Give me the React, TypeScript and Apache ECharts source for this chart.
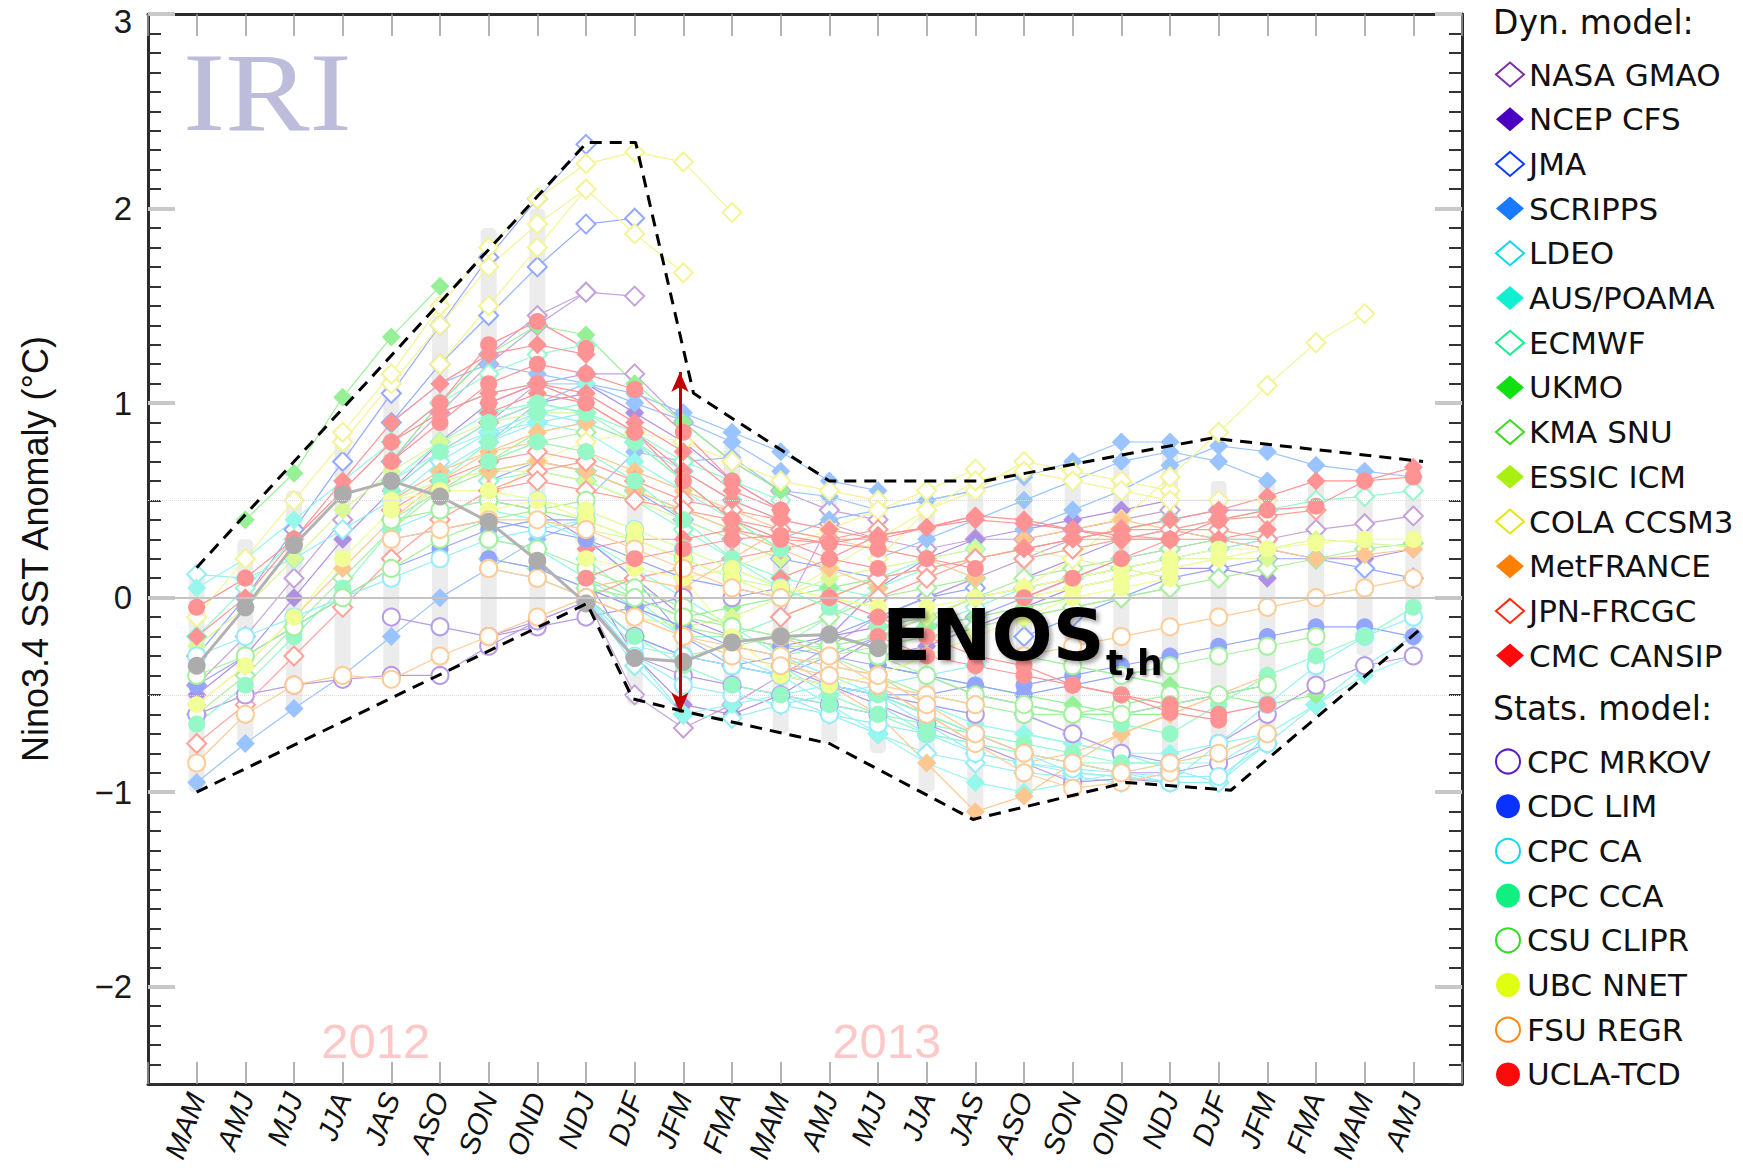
import React, { useEffect, useRef } from 'react';
import * as echarts from 'echarts';

// ---------- data ----------
const SEASONS = ['MAM', 'AMJ', 'MJJ', 'JJA', 'JAS', 'ASO', 'SON', 'OND', 'NDJ', 'DJF', 'JFM', 'FMA', 'MAM', 'AMJ', 'MJJ', 'JJA', 'JAS', 'ASO', 'SON', 'OND', 'NDJ', 'DJF', 'JFM', 'FMA', 'MAM', 'AMJ'];
const Y_TICK_LABELS = [-2, -1, 0, 1, 2, 3];

const OBSERVED = [-0.35, -0.05, 0.27, 0.53, 0.6, 0.52, 0.39, 0.19, -0.03, -0.31, -0.33, -0.23, -0.2, -0.19, -0.26];

const SPREAD_LOW = [-1.0, -0.75, -0.6, -0.45, -0.4, -0.35, -0.3, -0.2, -0.05, -0.55, -0.6, -0.65, -0.7, -0.75, -0.8, -1.0, -1.1, -1.05, -1.0, -0.95, -0.95, -0.95, -0.7, -0.5, -0.3, -0.2];
const SPREAD_HIGH = [0.12, 0.3, 0.55, 0.85, 1.15, 1.45, 1.9, 2.0, 1.1, 1.1, 0.95, 0.8, 0.65, 0.55, 0.5, 0.5, 0.55, 0.6, 0.65, 0.7, 0.75, 0.6, 0.6, 0.6, 0.65, 0.7];

const UPPER_ENVELOPE = [[0, 0.154], [8.02, 2.34], [9.02, 2.34], [10.21, 1.05], [13.0, 0.6], [16.2, 0.6], [20.85, 0.82], [25.2, 0.7]];
const LOWER_ENVELOPE = [[0, -1.0], [8.02, -0.03], [8.96, -0.52], [9.93, -0.58], [13.0, -0.75], [15.95, -1.14], [19.1, -0.95], [21.25, -0.99], [25.2, -0.15]];
const ARROW = [[9.93, 1.16], [9.93, -0.59]];
const YEAR_LABELS = [[3.68, -2.28, '2012'], [14.18, -2.28, '2013']];

type Run = [number, number[]];

const NASA_GMAO: Run[] = [
  [0, [-0.45, -0.2, 0.1, 0.4, 0.7, 0.95, 1.2, 1.4, 1.57]],
  [4, [0.7, 1.0, 1.25, 1.45, 1.57, 1.55]],
  [6, [0.9, 1.1, 1.15, 1.15, 0.9, 0.7, 0.55, 0.45, 0.4]],
  [8, [0.0, -0.5, -0.67, -0.55, -0.4, -0.25, -0.1, 0.0, 0.1]],
  [12, [-0.1, 0.38, 0.3, 0.25, 0.3, 0.3, 0.35, 0.4, 0.45]],
  [14, [-0.1, 0.0, 0.1, 0.2, 0.3, 0.35, 0.4, 0.45, 0.45]],
  [17, [0.05, 0.1, 0.15, 0.2, 0.25, 0.3, 0.35, 0.38, 0.42]],
];
const NCEP_CFS: Run[] = [
  [0, [-0.5, -0.3, 0.0, 0.3, 0.55, 0.75, 0.9, 1.0, 1.05]],
  [4, [0.55, 0.8, 1.0, 1.1, 1.1, 0.95, 0.8, 0.6, 0.45]],
  [6, [0.5, 0.45, 0.3, 0.1, -0.1, -0.2, -0.25, -0.2, -0.15]],
  [8, [0.1, -0.3, -0.55, -0.6, -0.5, -0.35, -0.2, -0.1, 0.0]],
  [12, [-0.3, -0.2, 0.05, 0.2, 0.3, 0.35, 0.4, 0.45, 0.5]],
  [14, [-0.3, -0.25, -0.15, -0.05, 0.05, 0.1, 0.15, 0.15, 0.1]],
  [17, [0.1, 0.2, 0.3, 0.35, 0.3, 0.25, 0.2, 0.2, 0.25]],
];
const JMA: Run[] = [
  [0, [-0.3, 0.0, 0.35, 0.7, 1.05, 1.4, 1.75, 2.05, 2.33]],
  [4, [0.9, 1.2, 1.45, 1.7, 1.92, 1.95]],
  [6, [0.6, 0.7, 0.65, 0.55, 0.4, 0.3, 0.2, 0.15, 0.1]],
  [8, [0.3, 0.1, -0.2, -0.35, -0.3, -0.2, -0.1, 0.0, 0.05]],
  [12, [-0.4, -0.3, -0.2, -0.1, 0.0, 0.05, 0.1, 0.15, 0.2]],
  [14, [-0.2, -0.15, -0.1, 0.0, 0.1, 0.2, 0.25, 0.3, 0.3]],
  [17, [-0.2, -0.1, 0.0, 0.1, 0.15, 0.2, 0.2, 0.15, 0.1]],
];
const SCRIPPS: Run[] = [
  [0, [-0.95, -0.75, -0.57, -0.4, -0.2, 0.0, 0.15, 0.3, 0.4]],
  [4, [0.9, 1.1, 1.2, 1.15, 1.1, 1.0, 0.91, 0.8, 0.65]],
  [6, [0.8, 1.0, 1.1, 1.05, 0.95, 0.85, 0.75, 0.6, 0.55]],
  [8, [0.5, 0.75, 0.7, 0.72, 0.55, 0.52, 0.45, 0.5, 0.55]],
  [12, [0.3, 0.4, 0.45, 0.5, 0.55, 0.62, 0.7, 0.8, 0.8]],
  [14, [0.2, 0.3, 0.4, 0.5, 0.6, 0.7, 0.75, 0.7, 0.6]],
  [17, [0.35, 0.45, 0.55, 0.68, 0.78, 0.75, 0.68, 0.65, 0.62]],
];
const LDEO: Run[] = [
  [0, [0.12, 0.1, 0.2, 0.35, 0.5, 0.65, 0.8, 0.9, 0.95]],
  [4, [0.5, 0.7, 0.85, 0.95, 0.9, 0.8, 0.65, 0.5, 0.4]],
  [6, [0.3, 0.25, 0.1, -0.05, -0.2, -0.3, -0.4, -0.45, -0.5]],
  [8, [0.0, -0.35, -0.6, -0.62, -0.55, -0.5, -0.45, -0.4, -0.35]],
  [12, [-0.5, -0.6, -0.7, -0.8, -0.85, -0.9, -0.92, -0.95, -0.9]],
  [14, [-0.5, -0.65, -0.8, -0.85, -0.9, -0.92, -0.95, -0.95, -0.7]],
  [17, [-0.6, -0.7, -0.8, -0.88, -0.95, -0.75, -0.55, -0.35, -0.2]],
];
const AUS_POAMA: Run[] = [
  [0, [0.05, 0.2, 0.4, 0.6, 0.8, 0.95, 1.05, 1.1, 1.1]],
  [4, [0.6, 0.75, 0.85, 0.9, 0.85, 0.7, 0.55, 0.4, 0.3]],
  [6, [0.45, 0.4, 0.3, 0.15, 0.0, -0.15, -0.3, -0.4, -0.45]],
  [8, [0.0, -0.3, -0.6, -0.55, -0.5, -0.45, -0.5, -0.55, -0.6]],
  [12, [-0.4, -0.55, -0.7, -0.85, -0.95, -1.0, -0.95, -0.9, -0.85]],
  [14, [-0.4, -0.55, -0.65, -0.7, -0.75, -0.8, -0.85, -0.85, -0.7]],
  [17, [-0.7, -0.75, -0.8, -0.8, -0.75, -0.7, -0.55, -0.4, -0.3]],
];
const ECMWF: Run[] = [
  [0, [-0.2, 0.05, 0.3, 0.55, 0.8, 1.0, 1.15, 1.25, 1.3]],
  [4, [0.6, 0.8, 0.95, 1.0, 0.95, 0.85, 0.7, 0.6, 0.5]],
  [6, [0.6, 0.65, 0.6, 0.5, 0.35, 0.2, 0.1, 0.05, 0.0]],
  [8, [0.2, 0.0, -0.2, -0.2, -0.1, 0.0, 0.1, 0.2, 0.25]],
  [12, [-0.25, -0.1, 0.05, 0.15, 0.2, 0.25, 0.3, 0.35, 0.4]],
  [14, [-0.2, -0.15, -0.05, 0.05, 0.1, 0.15, 0.2, 0.25, 0.3]],
  [17, [0.2, 0.25, 0.3, 0.35, 0.4, 0.45, 0.5, 0.52, 0.55]],
];
const UKMO: Run[] = [
  [1, [0.4, 0.64, 1.03, 1.34, 1.6]],
  [4, [0.7, 1.0, 1.25, 1.4, 1.35, 1.1, 0.9, 0.7, 0.55]],
  [6, [0.7, 0.85, 0.9, 0.8, 0.6, 0.4, 0.25]],
  [8, [0.1, 0.0, -0.1, -0.05, 0.0, 0.05, 0.1]],
  [12, [-0.3, -0.25, -0.2, -0.15, -0.1, -0.05, 0.0]],
  [14, [-0.35, -0.4, -0.45, -0.5, -0.55, -0.6, -0.6]],
  [17, [-0.3, -0.35, -0.4, -0.45, -0.5, -0.55, -0.5]],
];
const KMA_SNU: Run[] = [
  [0, [-0.6, -0.4, -0.15, 0.1, 0.35, 0.55, 0.7, 0.8, 0.85]],
  [4, [0.4, 0.55, 0.65, 0.7, 0.65, 0.55, 0.45, 0.35, 0.25]],
  [6, [0.2, 0.15, 0.05, -0.05, -0.15, -0.2, -0.25, -0.25, -0.2]],
  [8, [0.0, -0.2, -0.3, -0.25, -0.2, -0.1, 0.0, 0.05, 0.1]],
  [12, [-0.35, -0.3, -0.25, -0.2, -0.15, -0.1, -0.05, 0.0, 0.05]],
  [14, [-0.15, -0.1, 0.0, 0.1, 0.15, 0.2, 0.25, 0.3, 0.3]],
  [17, [-0.1, -0.05, 0.0, 0.05, 0.1, 0.15, 0.2, 0.25, 0.28]],
];
const ESSIC_ICM: Run[] = [
  [0, [-0.25, -0.05, 0.2, 0.45, 0.65, 0.8, 0.9, 0.95, 0.95]],
  [4, [0.5, 0.6, 0.65, 0.65, 0.6, 0.5, 0.4, 0.3, 0.2]],
  [6, [0.35, 0.4, 0.35, 0.3, 0.2, 0.1, 0.05, 0.0, -0.05]],
  [8, [0.0, -0.1, -0.15, -0.1, 0.0, 0.1, 0.15, 0.2, 0.25]],
  [12, [-0.1, 0.0, 0.1, 0.15, 0.2, 0.25, 0.2, 0.15, 0.1]],
  [14, [-0.2, -0.1, 0.0, 0.05, 0.1, 0.15, 0.2, 0.2, 0.2]],
  [17, [0.0, 0.05, 0.1, 0.15, 0.2, 0.25, 0.3, 0.28, 0.26]],
];
const COLA_CCSM3: Run[] = [
  [0, [-0.1, 0.2, 0.5, 0.8, 1.1, 1.4, 1.7, 1.92, 2.1]],
  [3, [0.85, 1.15, 1.5, 1.8, 2.05, 2.23, 2.29, 2.24, 1.98]],
  [5, [1.2, 1.5, 1.8, 2.1, 1.87, 1.67]],
  [6, [0.5, 0.7, 0.8, 0.85, 0.8, 0.7, 0.6, 0.55, 0.5]],
  [8, [0.3, 0.2, 0.1, 0.15, 0.25, 0.35, 0.45, 0.55, 0.66]],
  [12, [0.0, 0.15, 0.3, 0.45, 0.55, 0.7, 0.65, 0.6, 0.55]],
  [14, [0.2, 0.45, 0.6, 0.65, 0.6, 0.55, 0.5, 0.5, 0.5]],
  [17, [0.05, 0.2, 0.4, 0.62, 0.85, 1.09, 1.31, 1.46]],
];
const MET_FRANCE: Run[] = [
  [0, [-0.55, -0.35, -0.1, 0.15, 0.4, 0.6, 0.75, 0.85, 0.9]],
  [4, [0.5, 0.65, 0.75, 0.8, 0.75, 0.65, 0.55, 0.45, 0.35]],
  [6, [0.65, 0.7, 0.65, 0.55, 0.45, 0.35, 0.25, 0.15, 0.05]],
  [8, [0.05, 0.1, 0.05, 0.2, 0.35, 0.3, 0.25, 0.2, 0.1]],
  [12, [-0.3, -0.45, -0.6, -0.85, -1.1, -1.02, -0.85, -0.7, -0.6]],
  [14, [-0.45, -0.6, -0.75, -0.85, -0.8, -0.7, -0.6, -0.5, -0.4]],
  [17, [0.3, 0.35, 0.4, 0.35, 0.3, 0.25, 0.2, 0.22, 0.25]],
];
const JPN_FRCGC: Run[] = [
  [0, [-0.75, -0.55, -0.3, -0.05, 0.2, 0.4, 0.55, 0.65, 0.7]],
  [4, [0.45, 0.6, 0.7, 0.75, 0.7, 0.6, 0.5, 0.45, 0.4]],
  [6, [0.55, 0.6, 0.55, 0.5, 0.45, 0.4, 0.35, 0.3, 0.3]],
  [8, [0.0, 0.1, 0.15, 0.2, 0.25, 0.3, 0.35]],
  [12, [-0.1, 0.0, 0.1, 0.15, 0.2, 0.25, 0.3, 0.3, 0.3]],
  [14, [0.0, 0.1, 0.2, 0.25, 0.3, 0.35, 0.35, 0.35, 0.3]],
  [17, [0.2, 0.25, 0.3, 0.35, 0.4, 0.42, 0.45]],
];
const CMC_CANSIP: Run[] = [
  [0, [-0.2, 0.0, 0.3, 0.6, 0.9, 1.1, 1.25, 1.3, 1.25]],
  [4, [0.8, 0.95, 1.05, 1.1, 1.05, 0.9, 0.75, 0.55, 0.45]],
  [6, [0.95, 1.05, 1.0, 0.85, 0.65, 0.5, 0.4, 0.35, 0.3]],
  [8, [0.25, 0.3, 0.3, 0.35, 0.3, 0.28, 0.32, 0.36, 0.42]],
  [12, [0.1, 0.2, 0.32, 0.36, 0.42, 0.4, 0.35, 0.3, 0.3]],
  [14, [0.3, 0.36, 0.4, 0.38, 0.35, 0.32, 0.3, 0.3, 0.35]],
  [17, [0.25, 0.3, 0.35, 0.4, 0.45, 0.52, 0.6, 0.6, 0.67]],
];
const CPC_MRKOV: Run[] = [
  [0, [-0.6, -0.5, -0.45, -0.42, -0.4, -0.4, -0.25, -0.12, -0.02]],
  [4, [-0.1, -0.15, -0.2, -0.15, -0.1, -0.05, 0.0, 0.0, 0.05]],
  [6, [-0.2, -0.12, -0.02, -0.3, -0.4, -0.45, -0.5, -0.55, -0.6]],
  [8, [0.0, -0.2, -0.3, -0.35, -0.4, -0.45, -0.5, -0.55, -0.6]],
  [12, [-0.35, -0.45, -0.55, -0.65, -0.75, -0.85, -0.95, -0.93, -0.95]],
  [14, [-0.5, -0.6, -0.7, -0.8, -0.85, -0.9, -0.9, -0.85, -0.75]],
  [17, [-0.6, -0.7, -0.8, -0.85, -0.75, -0.6, -0.45, -0.35, -0.3]],
];
const CDC_LIM: Run[] = [
  [0, [-0.45, -0.3, -0.15, 0.0, 0.15, 0.25, 0.35, 0.4, 0.4]],
  [4, [0.3, 0.35, 0.4, 0.35, 0.3, 0.2, 0.1, 0.05, 0.0]],
  [6, [0.2, 0.15, 0.05, -0.05, -0.15, -0.25, -0.3, -0.35, -0.4]],
  [8, [0.0, -0.2, -0.3, -0.35, -0.4, -0.45, -0.5, -0.5, -0.45]],
  [12, [-0.25, -0.3, -0.35, -0.4, -0.45, -0.5, -0.45, -0.4, -0.35]],
  [14, [-0.35, -0.4, -0.5, -0.55, -0.6, -0.6, -0.55, -0.5, -0.45]],
  [17, [-0.45, -0.4, -0.35, -0.3, -0.25, -0.2, -0.15, -0.15, -0.2]],
];
const CPC_CA: Run[] = [
  [0, [-0.3, -0.2, -0.1, 0.0, 0.1, 0.2, 0.3, 0.35, 0.4]],
  [4, [0.35, 0.45, 0.5, 0.5, 0.45, 0.35, 0.25, 0.15, 0.05]],
  [6, [0.15, 0.1, 0.0, -0.25, -0.3, -0.35, -0.4, -0.45, -0.5]],
  [8, [0.0, -0.3, -0.45, -0.5, -0.55, -0.6, -0.65, -0.7, -0.75]],
  [12, [-0.3, -0.4, -0.5, -0.6, -0.7, -0.8, -0.9, -0.92, -0.95]],
  [14, [-0.55, -0.7, -0.8, -0.85, -0.88, -0.9, -0.92, -0.92, -0.75]],
  [17, [-0.8, -0.85, -0.9, -0.95, -0.75, -0.55, -0.35, -0.2, -0.1]],
];
const CPC_CCA: Run[] = [
  [0, [-0.65, -0.45, -0.2, 0.05, 0.35, 0.6, 0.8, 0.95, 1.0]],
  [4, [0.55, 0.75, 0.9, 1.0, 0.95, 0.8, 0.6, 0.4, 0.25]],
  [6, [0.7, 0.8, 0.75, 0.6, 0.4, 0.2, 0.05, -0.05, -0.15]],
  [8, [0.0, -0.2, -0.35, -0.45, -0.5, -0.55, -0.6, -0.65, -0.7]],
  [12, [-0.35, -0.5, -0.6, -0.7, -0.75, -0.8, -0.85, -0.85, -0.85]],
  [14, [-0.5, -0.6, -0.7, -0.75, -0.8, -0.85, -0.85, -0.8, -0.7]],
  [17, [-0.55, -0.6, -0.65, -0.7, -0.55, -0.4, -0.3, -0.2, -0.05]],
];
const CSU_CLIPR: Run[] = [
  [0, [-0.4, -0.3, -0.15, 0.0, 0.15, 0.3, 0.4, 0.45, 0.5]],
  [4, [0.4, 0.45, 0.5, 0.45, 0.4, 0.3, 0.2, 0.1, 0.0]],
  [6, [0.3, 0.25, 0.15, 0.05, -0.05, -0.15, -0.2, -0.25, -0.3]],
  [8, [0.05, 0.0, -0.1, -0.15, -0.2, -0.25, -0.3]],
  [12, [-0.2, -0.3, -0.4, -0.5, -0.55, -0.6, -0.6, -0.55, -0.5]],
  [14, [-0.3, -0.4, -0.5, -0.55, -0.6, -0.6, -0.55, -0.5, -0.45]],
  [17, [-0.3, -0.35, -0.4, -0.35, -0.3, -0.25, -0.2]],
];
const UBC_NNET: Run[] = [
  [0, [-0.55, -0.35, -0.1, 0.2, 0.45, 0.55, 0.55, 0.5, 0.45]],
  [4, [0.5, 0.55, 0.55, 0.5, 0.4, 0.3, 0.2, 0.1, 0.0]],
  [6, [0.45, 0.5, 0.45, 0.35, 0.25, 0.15, 0.05, 0.0, -0.05]],
  [8, [0.2, 0.15, 0.1, -0.2, -0.4, -0.45, -0.4, -0.3, -0.2]],
  [12, [-0.3, -0.35, -0.4, -0.3, -0.2, -0.1, 0.0, 0.05, 0.1]],
  [14, [-0.1, -0.05, 0.0, 0.05, 0.1, 0.15, 0.2, 0.25, 0.25]],
  [17, [0.0, 0.05, 0.1, 0.15, 0.2, 0.25, 0.28, 0.3, 0.3]],
];
const FSU_REGR: Run[] = [
  [0, [-0.85, -0.6, -0.45, -0.4, -0.42, -0.3, -0.2, -0.1, 0.0]],
  [4, [0.3, 0.35, 0.4, 0.4, 0.35, 0.25, 0.15, 0.05, 0.0]],
  [6, [0.15, 0.1, 0.0, -0.1, -0.2, -0.25, -0.3, -0.35, -0.4]],
  [8, [0.0, -0.1, -0.2, -0.3, -0.35, -0.4, -0.45, -0.5, -0.55]],
  [12, [-0.2, -0.3, -0.45, -0.6, -0.75, -0.9, -0.98, -0.95, -0.9]],
  [14, [-0.4, -0.55, -0.7, -0.8, -0.85, -0.9, -0.85, -0.8, -0.7]],
  [17, [-0.3, -0.25, -0.2, -0.15, -0.1, -0.05, 0.0, 0.05, 0.1]],
];
const UCLA_TCD: Run[] = [
  [0, [-0.05, 0.1, 0.3, 0.55, 0.8, 1.0, 1.3, 1.42, 1.28]],
  [4, [0.7, 0.9, 1.1, 1.2, 1.15, 1.07, 0.85, 0.6, 0.45]],
  [6, [1.0, 1.1, 1.0, 0.85, 0.6, 0.4, 0.3, 0.2, 0.15]],
  [8, [0.1, 0.2, 0.25, 0.3, 0.32, 0.28, 0.25, 0.2, 0.15]],
  [13, [0.0, -0.1, -0.2, -0.3, -0.35, -0.45, -0.5, -0.59, -0.63]],
  [14, [-0.2, -0.3, -0.35, -0.4, -0.45, -0.5, -0.55, -0.6, -0.55]],
  [17, [0.0, 0.1, 0.2, 0.3, 0.4, 0.45, 0.47, 0.6, 0.62]],
];

const DYN_MODELS = [
  { name: 'NASA GMAO', color: '#7b2fa8', symbol: 'emptyDiamond', runs: NASA_GMAO },
  { name: 'NCEP CFS', color: '#4a00c0', symbol: 'diamond', runs: NCEP_CFS },
  { name: 'JMA', color: '#0a3cff', symbol: 'emptyDiamond', runs: JMA },
  { name: 'SCRIPPS', color: '#1a7aff', symbol: 'diamond', runs: SCRIPPS },
  { name: 'LDEO', color: '#10d8e8', symbol: 'emptyDiamond', runs: LDEO },
  { name: 'AUS/POAMA', color: '#10f0d0', symbol: 'diamond', runs: AUS_POAMA },
  { name: 'ECMWF', color: '#10f090', symbol: 'emptyDiamond', runs: ECMWF },
  { name: 'UKMO', color: '#10e010', symbol: 'diamond', runs: UKMO },
  { name: 'KMA SNU', color: '#40d820', symbol: 'emptyDiamond', runs: KMA_SNU },
  { name: 'ESSIC ICM', color: '#a8f010', symbol: 'diamond', runs: ESSIC_ICM },
  { name: 'COLA CCSM3', color: '#e6e610', symbol: 'emptyDiamond', runs: COLA_CCSM3 },
  { name: 'MetFRANCE', color: '#ff8000', symbol: 'diamond', runs: MET_FRANCE },
  { name: 'JPN-FRCGC', color: '#ff2a10', symbol: 'emptyDiamond', runs: JPN_FRCGC },
  { name: 'CMC CANSIP', color: '#ff0a0a', symbol: 'diamond', runs: CMC_CANSIP },
];
const STAT_MODELS = [
  { name: 'CPC MRKOV', color: '#5a1ec8', symbol: 'emptyCircle', runs: CPC_MRKOV },
  { name: 'CDC LIM', color: '#0a32ff', symbol: 'circle', runs: CDC_LIM },
  { name: 'CPC CA', color: '#10d8f0', symbol: 'emptyCircle', runs: CPC_CA },
  { name: 'CPC CCA', color: '#10f080', symbol: 'circle', runs: CPC_CCA },
  { name: 'CSU CLIPR', color: '#30e020', symbol: 'emptyCircle', runs: CSU_CLIPR },
  { name: 'UBC NNET', color: '#e0ff10', symbol: 'circle', runs: UBC_NNET },
  { name: 'FSU REGR', color: '#ff8810', symbol: 'emptyCircle', runs: FSU_REGR },
  { name: 'UCLA-TCD', color: '#ff0a0a', symbol: 'circle', runs: UCLA_TCD },
];

// ---------- helpers ----------
const lighten = (hex: string, t: number) => {
  const n = parseInt(hex.slice(1), 16);
  const r = (n >> 16) & 255, g = (n >> 8) & 255, b = n & 255;
  const m = (c: number) => Math.round(c + (255 - c) * t);
  return `rgb(${m(r)},${m(g)},${m(b)})`;
};

const yLabel = (v: number) => {
  const r = Math.round(v * 10) / 10;
  if (!Y_TICK_LABELS.includes(r)) return '';
  return r < 0 ? '\u2212' + Math.abs(r) : String(r);
};

function buildOption() {
  const all = [...DYN_MODELS, ...STAT_MODELS];
  const plume: any[] = [];
  all.forEach((m) => {
    const pale = lighten(m.color, 0.56);
    const empty = m.symbol.startsWith('empty');
    const isCircle = m.symbol.toLowerCase().includes('circle');
    m.runs.forEach(([s, vals]) => {
      plume.push({
        type: 'line',
        name: m.name,
        silent: true,
        z: 3,
        symbol: m.symbol,
        symbolSize: isCircle ? 17 : 19,
        data: vals.map((v, i) => [s + i, v]),
        lineStyle: { color: pale, width: 1.2 },
        itemStyle: { color: pale, borderColor: pale, borderWidth: empty ? 1.6 : 0 },
        emphasis: { disabled: true },
      });
    });
  });

  const legendCommon = {
    orient: 'vertical',
    left: 1490,
    itemWidth: 28,
    itemHeight: 24,
    itemGap: 13.7,
    selectedMode: false,
    textStyle: { fontSize: 31, fontFamily: 'DejaVu Sans', color: '#111' },
  };
  const legendData = (list: typeof DYN_MODELS) =>
    list.map((m) => ({ name: m.name, icon: m.symbol, itemStyle: { color: m.color, borderColor: m.color } }));

  const xBase = { type: 'value', min: -1, max: 26, interval: 1, splitLine: { show: false } };
  const frame = { show: true, onZero: false, lineStyle: { color: '#2b2b2b', width: 3 } };
  const xTick = { show: true, inside: true, length: 22, lineStyle: { color: '#9a9a9a', width: 1.5 } };
  const yBase = { type: 'value', min: -2.5, max: 3, interval: 0.5, splitLine: { show: false } };
  const yTick = { show: true, inside: true, length: 13, lineStyle: { color: '#333', width: 2 } };
  const yMinor = { show: true, splitNumber: 5, length: 13, lineStyle: { color: '#333', width: 2 } };
  const yLong = { show: true, inside: true, length: 27, customValues: Y_TICK_LABELS, lineStyle: { color: '#c8c8c8', width: 4 } };
  const hidden = { show: false, onZero: false };

  return {
    animation: false,
    backgroundColor: '#fff',
    grid: { left: 148, right: 281, top: 14, bottom: 90 },
    xAxis: [
      {
        ...xBase,
        position: 'bottom',
        axisLine: frame,
        axisTick: xTick,
        axisLabel: {
          formatter: (v: number) => SEASONS[v] ?? '',
          rotate: 70,
          fontSize: 29,
          fontStyle: 'italic',
          fontFamily: 'Liberation Sans',
          color: '#111',
          margin: 10,
        },
      },
      { ...xBase, position: 'top', axisLine: frame, axisTick: xTick, axisLabel: { show: false } },
    ],
    yAxis: [
      {
        ...yBase,
        position: 'left',
        axisLine: frame,
        axisTick: yTick,
        minorTick: yMinor,
        axisLabel: {
          formatter: yLabel, fontSize: 33, lineHeight: 14, color: '#1a1a1a', margin: 16, fontFamily: 'Liberation Sans',
          verticalAlignMaxLabel: 'top',
        },
        name: 'Nino3.4 SST Anomaly (°C)',
        nameLocation: 'middle',
        nameGap: 95,
        nameTextStyle: { fontSize: 36, fontFamily: 'Liberation Sans', color: '#111' },
      },
      { ...yBase, position: 'right', axisLine: frame, axisTick: yTick, minorTick: yMinor, axisLabel: { show: false } },
      { type: 'value', min: -2.5, max: 3, position: 'left', axisLine: hidden, splitLine: { show: false }, axisLabel: { show: false }, axisTick: yLong },
      { type: 'value', min: -2.5, max: 3, position: 'right', axisLine: hidden, splitLine: { show: false }, axisLabel: { show: false }, axisTick: yLong },
    ],
    legend: [
      { ...legendCommon, top: 54, data: legendData(DYN_MODELS) },
      { ...legendCommon, top: 741, data: legendData(STAT_MODELS) },
    ],
    graphic: [
      { type: 'text', left: 1493, top: 6, style: { text: 'Dyn. model:', fontSize: 33, fontFamily: 'DejaVu Sans', fill: '#111' } },
      { type: 'text', left: 1493, top: 692, style: { text: 'Stats. model:', fontSize: 33, fontFamily: 'DejaVu Sans', fill: '#111' } },
      {
        type: 'text', x: 183, y: 92, scaleX: 1.12, z: 0,
        style: { text: 'IRI', fontSize: 113, fontFamily: 'Liberation Serif', fill: '#bdbddb', verticalAlign: 'middle', align: 'left' },
      },
      {
        type: 'text', x: 882, y: 635, z: 50,
        style: {
          text: 'ENOS', fontSize: 72, fontWeight: 'bold', fontFamily: 'DejaVu Sans', fill: '#000', verticalAlign: 'middle', align: 'left',
          textShadowColor: 'rgba(0,0,0,0.35)', textShadowBlur: 4, textShadowOffsetX: 3, textShadowOffsetY: 3,
        },
      },
      {
        type: 'text', x: 1106, y: 662, z: 50,
        style: {
          text: 't,h', fontSize: 36, fontWeight: 'bold', fontFamily: 'DejaVu Sans', fill: '#000', verticalAlign: 'middle', align: 'left',
          textShadowColor: 'rgba(0,0,0,0.35)', textShadowBlur: 3, textShadowOffsetX: 2, textShadowOffsetY: 2,
        },
      },
    ],
    series: [
      {
        type: 'custom',
        name: 'spread',
        silent: true,
        z: 1,
        encode: { x: 0, y: [1, 2] },
        data: SEASONS.map((_, i) => [i, SPREAD_LOW[i], SPREAD_HIGH[i]]),
        renderItem: (_p: any, api: any) => {
          const x = api.value(0);
          const p1 = api.coord([x, api.value(1)]);
          const p2 = api.coord([x, api.value(2)]);
          return {
            type: 'rect',
            shape: { x: p1[0] - 8, y: p2[1], width: 16, height: p1[1] - p2[1], r: 5 },
            style: { fill: '#ececec' },
          };
        },
      },
      {
        type: 'line',
        name: 'ref',
        data: [],
        silent: true,
        z: 1,
        markLine: {
          silent: true,
          symbol: 'none',
          label: { show: false },
          data: [
            { yAxis: 0, lineStyle: { color: '#c4c4c4', width: 2, type: 'solid' } },
            { yAxis: 0.5, lineStyle: { color: '#dcdcdc', width: 1, type: 'dotted' } },
            { yAxis: -0.5, lineStyle: { color: '#dcdcdc', width: 1, type: 'dotted' } },
          ],
        },
      },
      ...plume,
      {
        type: 'line',
        name: 'observed',
        silent: true,
        z: 4,
        symbol: 'circle',
        symbolSize: 18,
        data: OBSERVED.map((v, i) => [i, v]),
        lineStyle: { color: '#b2b2b2', width: 3 },
        itemStyle: { color: '#acacac' },
        emphasis: { disabled: true },
      },
      {
        type: 'line', name: 'upper', silent: true, z: 10, symbol: 'none', data: UPPER_ENVELOPE,
        lineStyle: { color: '#000', width: 3, type: [12, 8] },
      },
      {
        type: 'line', name: 'lower', silent: true, z: 10, symbol: 'none', data: LOWER_ENVELOPE,
        lineStyle: { color: '#000', width: 3, type: [12, 8] },
      },
      {
        type: 'line',
        name: 'arrow',
        data: [],
        silent: true,
        z: 11,
        markLine: {
          silent: true,
          symbol: ['arrow', 'arrow'],
          symbolSize: [13, 20],
          label: { show: false },
          lineStyle: { color: '#c00000', width: 3, type: 'solid' },
          data: [[{ coord: ARROW[0] }, { coord: ARROW[1] }]],
        },
      },
      {
        type: 'scatter',
        name: 'years',
        silent: true,
        z: 2,
        symbolSize: 1,
        itemStyle: { color: 'rgba(0,0,0,0)' },
        data: YEAR_LABELS,
        label: {
          show: true,
          position: 'inside',
          formatter: (p: any) => p.value[2],
          color: '#ffbaba',
          fontSize: 49,
          fontFamily: 'Liberation Sans',
        },
      },
    ],
  };
}

export default function App() {
  const ref = useRef<HTMLDivElement>(null);
  useEffect(() => {
    const chart = echarts.init(ref.current!, null, { renderer: 'svg' });
    chart.setOption(buildOption() as any);
    return () => chart.dispose();
  }, []);
  return (
    <div
      ref={ref}
      style={{ position: 'absolute', left: 0, top: 0, width: 1743, height: 1174, background: '#fff' }}
    />
  );
}
